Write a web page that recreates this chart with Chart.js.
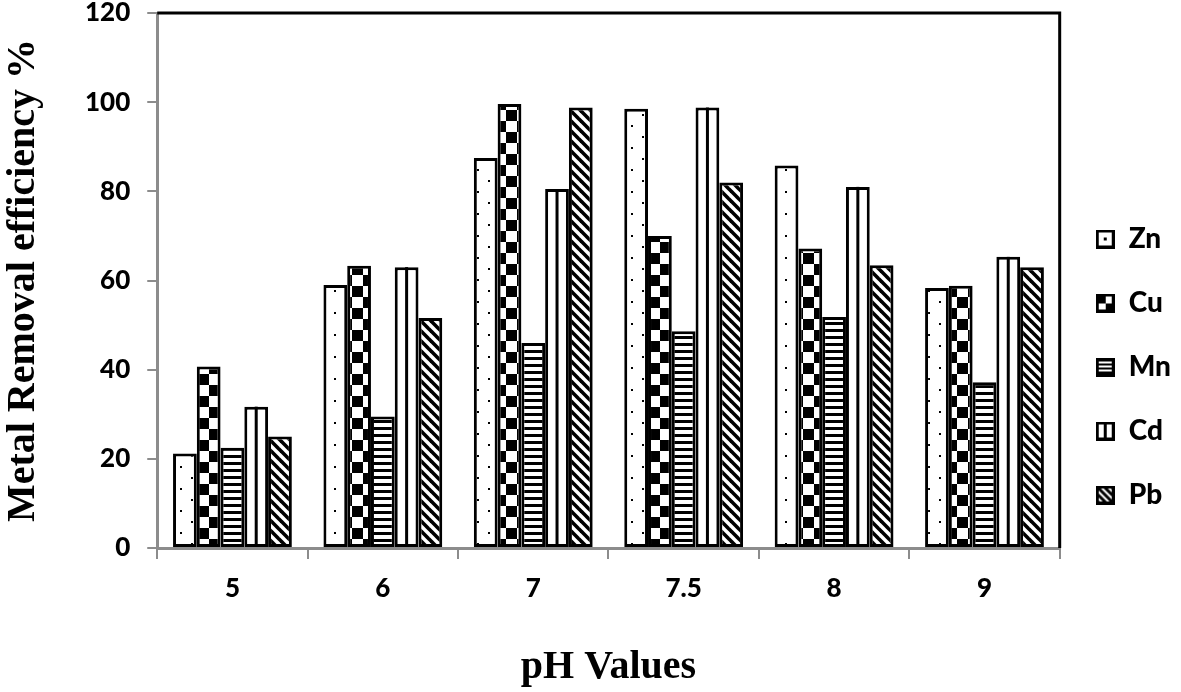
<!DOCTYPE html>
<html>
<head>
<meta charset="utf-8">
<script src="https://cdn.jsdelivr.net/npm/chart.js@4.4.1/dist/chart.umd.min.js"></script>
<style>
  html, body { margin: 0; padding: 0; background: #fff; }
  #wrap { width: 1181px; height: 692px; position: relative; }
</style>
</head>
<body>
<div id="wrap"><canvas id="c"></canvas></div>
<script>
'use strict'
// pH values on the x axis
var categories = ['5', '6', '7', '7.5', '8', '9']
var seriesNames = ['Zn', 'Cu', 'Mn', 'Cd', 'Pb']
var zn = [21.2, 59, 87.5, 98.5, 85.8, 58.3]
var cu = [40.7, 63.3, 99.6, 70, 67.2, 58.8]
var mn = [22.5, 29.5, 46, 48.6, 51.8, 37.2]
var cd = [31.7, 63, 80.5, 98.8, 81, 65.3]
var pb = [25, 51.6, 98.8, 82, 63.4, 63]
var yTicks = [0, 20, 40, 60, 80, 100, 120]

function makeCanvas(w, h) {
  var c = document.createElement('canvas')
  c.width = w
  c.height = h
  return c
}

// fill patterns, one per metal
function patDots() {
  var c = makeCanvas(22, 22), g = c.getContext('2d')
  g.fillStyle = '#fff'; g.fillRect(0, 0, 22, 22)
  g.fillStyle = '#000'
  g.fillRect(4, 4, 2, 2)
  g.fillRect(15, 15, 2, 2)
  return c
}
function patChecker() {
  var c = makeCanvas(22, 22), g = c.getContext('2d')
  g.fillStyle = '#fff'; g.fillRect(0, 0, 22, 22)
  g.fillStyle = '#000'
  g.fillRect(0, 0, 11, 11)
  g.fillRect(11, 11, 11, 11)
  return c
}
function patHoriz() {
  var c = makeCanvas(4, 7), g = c.getContext('2d')
  g.fillStyle = '#fff'; g.fillRect(0, 0, 4, 7)
  g.fillStyle = '#000'; g.fillRect(0, 0, 4, 3)
  return c
}
function patDiag() {
  var s = 10, c = makeCanvas(s, s), g = c.getContext('2d')
  g.fillStyle = '#fff'; g.fillRect(0, 0, s, s)
  g.strokeStyle = '#000'
  g.lineWidth = 3.6
  for (var k = -1; k <= 1; k++) {
    g.beginPath()
    g.moveTo(k * s - 2, -2)
    g.lineTo(k * s + s + 2, s + 2)
    g.stroke()
  }
  return c
}

var ctx0 = document.createElement('canvas').getContext('2d')
var fills = [
  ctx0.createPattern(patDots(), 'repeat'),
  ctx0.createPattern(patChecker(), 'repeat'),
  ctx0.createPattern(patHoriz(), 'repeat'),
  '#ffffff',
  ctx0.createPattern(patDiag(), 'repeat'),
]

// legend icons
function icon(kind) {
  var s = 19, c = makeCanvas(s, s), g = c.getContext('2d')
  g.fillStyle = '#fff'; g.fillRect(0, 0, s, s)
  g.fillStyle = '#000'
  if (kind === 0) {
    g.fillRect(8, 8, 3, 3)
  } else if (kind === 1) {
    g.fillRect(0, 0, 10, 10)
    g.fillRect(10, 10, 9, 9)
  } else if (kind === 2) {
    for (var y = 2; y < s; y += 4) g.fillRect(0, y, s, 2)
  } else if (kind === 3) {
    g.fillRect(8, 0, 3, s)
  } else {
    g.strokeStyle = '#000'; g.lineWidth = 3
    for (var k = -2; k <= 2; k++) {
      g.beginPath(); g.moveTo(k * 7 - 2, -2); g.lineTo(k * 7 + s + 2, s + 2); g.stroke()
    }
  }
  g.strokeStyle = '#000'; g.lineWidth = 3
  g.strokeRect(1.5, 1.5, s - 3, s - 3)
  return c
}
var icons = [0, 1, 2, 3, 4].map(icon)

var tickFont = { family: 'Lato, "Liberation Sans", sans-serif', size: 26, weight: 900, lineHeight: 1 }
var titleFont = { family: '"Liberation Serif", "Times New Roman", serif', size: 40, weight: 'bold' }
var axisGray = '#8c8c8c'

var frame = {
  id: 'frame',
  afterDatasetsDraw: function (chart) {
    var g = chart.ctx, a = chart.chartArea
    g.save()
    // centre line of the Cd bars
    var meta = chart.getDatasetMeta(3)
    g.fillStyle = '#000'
    meta.data.forEach(function (el) {
      g.fillRect(el.x - 1.5, el.y, 3, el.base - el.y)
    })
    // short gray tick marks left of the y axis
    var ys = chart.scales.y
    g.strokeStyle = axisGray
    g.lineWidth = 2
    ys.ticks.forEach(function (t) {
      var py = Math.round(ys.getPixelForValue(t.value))
      g.beginPath()
      g.moveTo(a.left - 10, py)
      g.lineTo(a.left, py)
      g.stroke()
    })
    // black top and right border
    g.strokeStyle = '#000'
    g.lineWidth = 3
    g.beginPath()
    g.moveTo(a.left, a.top)
    g.lineTo(a.right, a.top)
    g.lineTo(a.right, a.bottom)
    g.stroke()
    g.restore()
  },
}

var allData = [zn, cu, mn, cd, pb]
var datasets = allData.map(function (d, i) {
  return {
    label: seriesNames[i],
    data: d,
    backgroundColor: fills[i],
    borderColor: '#000',
    borderWidth: 3,
    borderSkipped: false,
    categoryPercentage: 0.79,
    barPercentage: 1.0,
  }
})

new Chart(document.getElementById('c'), {
  type: 'bar',
  data: { labels: categories, datasets: datasets },
  options: {
    responsive: true,
    maintainAspectRatio: false,
    animation: false,
    layout: { padding: { left: 0, right: 0, top: 0, bottom: 0 } },
    plugins: {
      tooltip: { enabled: false },
      legend: {
        position: 'right',
        align: 'center',
        title: { display: true, text: ' ', padding: 15, font: { size: 10 } },
        labels: {
          usePointStyle: true,
          pointStyleWidth: 19,
          padding: 36,
          color: '#000',
          font: { family: 'Lato, "Liberation Sans", sans-serif', size: 28, weight: 900, lineHeight: 1.14 },
          generateLabels: function (chart) {
            return chart.data.datasets.map(function (ds, i) {
              return {
                text: ds.label,
                pointStyle: icons[i],
                fillStyle: '#fff',
                strokeStyle: '#000',
                lineWidth: 0,
                hidden: false,
                datasetIndex: i,
                fontColor: '#000',
              }
            })
          },
        },
      },
    },
    scales: {
      x: {
        grid: { offset: true, drawOnChartArea: false, drawTicks: true, tickLength: 11, color: axisGray, lineWidth: 2 },
        border: { color: axisGray, width: 3 },
        ticks: { color: '#000', font: tickFont, padding: 17 },
        title: { display: true, text: 'pH Values', color: '#000', font: titleFont, padding: { top: 25, bottom: 0 } },
      },
      y: {
        min: 0,
        max: 120,
        afterBuildTicks: function (axis) {
          axis.ticks = yTicks.map(function (v) { return { value: v } })
        },
        grid: { drawOnChartArea: false, drawTicks: true, tickLength: 27, tickColor: 'rgba(0,0,0,0)', color: axisGray, lineWidth: 2 },
        border: { color: axisGray, width: 3 },
        ticks: { color: '#000', font: tickFont, padding: 0 },
        title: { display: true, text: 'Metal Removal efficiency %', color: '#000', font: titleFont, padding: { top: 0, bottom: 37 } },
      },
    },
  },
  plugins: [frame],
})
</script>
</body>
</html>
